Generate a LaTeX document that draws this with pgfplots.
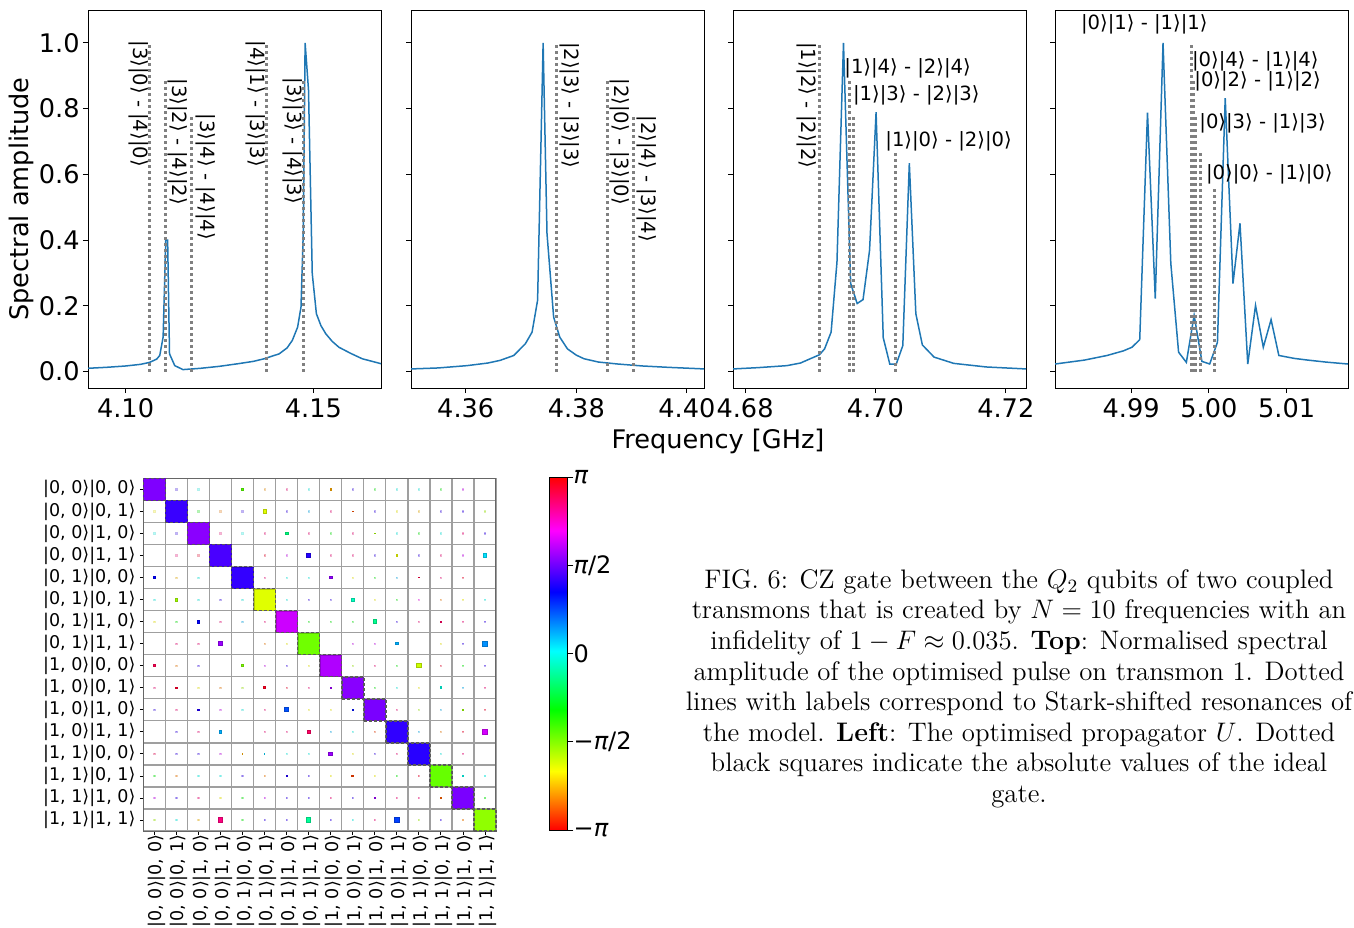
\RequirePackage{fix-cm}
\documentclass[border=0pt]{standalone}
\usepackage{fontspec}
\usepackage{pgfplots}
\pgfplotsset{compat=1.18}
\newfontfamily\dv{DejaVu Sans}
\newcommand\tickfont{\dv\fontsize{12.8}{15}\selectfont}
\newcommand\lblfont{\dv\fontsize{9.8}{11}\selectfont}
\newcommand\rowfont{\dv\fontsize{8.75}{10}\selectfont}
\newcommand\cbfont{\dv\fontsize{12}{14}\selectfont}
\newcommand\kt[4]{|#1, #2⟩|#3, #4⟩}
\definecolor{mplblue}{HTML}{1F77B4}
\definecolor{lgray}{HTML}{808080}
\pgfplotsset{
  panel/.style={scale only axis, width=146.5pt, height=189pt, ymin=-0.05, ymax=1.1,
    anchor=south west, tick align=outside, xtick pos=left, ytick pos=left,
    major tick length=2.5pt, every tick/.style={black, line width=0.5pt},
    axis line style={line width=0.5pt},
    ytick={0,0.2,0.4,0.6,0.8,1.0}, yticklabels={},
    xticklabel style={font=\tickfont, inner sep=0pt, yshift=-2.5pt},
    yticklabel style={font=\tickfont, inner sep=0pt, xshift=-1.5pt}},
  curve/.style={mplblue, line width=0.75pt},
  vl/.style={lgray, line width=1.5pt, dash pattern=on 1.5pt off 1.5pt}
}
\begin{document}
\begin{tikzpicture}
\path[use as bounding box] (0,0) rectangle (677pt,-463.5pt);
% ---------- panel 1
\begin{axis}[panel, at={(44pt,-194pt)}, xmin=4.0900, xmax=4.1680,
  xtick={4.10,4.15}, xticklabels={4.10,4.15},
  yticklabels={0.0,0.2,0.4,0.6,0.8,1.0}]
\addplot[curve] coordinates {(4.0900,0.010) (4.0950,0.013) (4.1000,0.017) (4.1040,0.022) (4.1064,0.028) (4.1083,0.038) (4.1091,0.049) (4.1100,0.105) (4.1107,0.40) (4.1112,0.40) (4.1117,0.054) (4.1131,0.018) (4.1153,0.006) (4.1200,0.010) (4.1250,0.016) (4.1300,0.024) (4.1340,0.031) (4.1369,0.039) (4.1409,0.054) (4.1430,0.072) (4.1444,0.095) (4.1458,0.135) (4.1467,0.196) (4.1473,0.42) (4.1478,1.0) (4.1487,0.857) (4.1497,0.298) (4.1508,0.176) (4.1520,0.140) (4.1533,0.115) (4.1550,0.092) (4.1568,0.074) (4.1600,0.055) (4.1630,0.039) (4.1680,0.024)};
\addplot[vl] coordinates {(4.10644,0) (4.10644,1.0)};
\addplot[vl] coordinates {(4.11060,0) (4.11060,0.888)};
\addplot[vl] coordinates {(4.11766,0) (4.11766,0.778)};
\addplot[vl] coordinates {(4.13754,0) (4.13754,1.0)};
\addplot[vl] coordinates {(4.14727,0) (4.14727,0.888)};
\end{axis}
% ---------- panel 2
\begin{axis}[panel, at={(205.5pt,-194pt)}, xmin=4.3501, xmax=4.4031,
  xtick={4.36,4.38,4.40}, xticklabels={4.36,4.38,4.40}]
\addplot[curve] coordinates {(4.3501,0.008) (4.3550,0.011) (4.3602,0.018) (4.3640,0.026) (4.3662,0.034) (4.3687,0.049) (4.3708,0.085) (4.3720,0.12) (4.3730,0.217) (4.3740,1.0) (4.3747,0.42) (4.3759,0.166) (4.3770,0.105) (4.3784,0.069) (4.3800,0.050) (4.3814,0.039) (4.3840,0.029) (4.3875,0.023) (4.3920,0.017) (4.3965,0.013) (4.4032,0.008)};
\addplot[vl] coordinates {(4.3764,0) (4.3764,1.0)};
\addplot[vl] coordinates {(4.3856,0) (4.3856,0.888)};
\addplot[vl] coordinates {(4.3903,0) (4.3903,0.778)};
\end{axis}
% ---------- panel 3
\begin{axis}[panel, at={(366.5pt,-194pt)}, xmin=4.67815, xmax=4.7231,
  xtick={4.68,4.70,4.72}, xticklabels={4.68,4.70,4.72}]
\addplot[curve] coordinates {(4.67815,0.008) (4.6820,0.012) (4.6864,0.018) (4.6885,0.026) (4.6900,0.039) (4.6914,0.051) (4.6922,0.069) (4.6932,0.12) (4.6941,0.333) (4.6951,1.0) (4.6962,0.268) (4.6972,0.207) (4.6981,0.219) (4.6991,0.369) (4.7001,0.789) (4.7012,0.103) (4.7022,0.023) (4.7032,0.023) (4.7042,0.079) (4.7052,0.634) (4.7062,0.176) (4.7072,0.081) (4.7090,0.044) (4.7120,0.025) (4.7170,0.014) (4.7231,0.008)};
\addplot[vl] coordinates {(4.6914,0) (4.6914,1.0)};
\addplot[vl] coordinates {(4.6960,0) (4.6960,0.888)};
\addplot[vl] coordinates {(4.6966,0) (4.6966,0.778)};
\addplot[vl] coordinates {(4.7031,0) (4.7031,0.667)};
\end{axis}
% ---------- panel 4
\begin{axis}[panel, at={(527.5pt,-194pt)}, xmin=4.9802, xmax=5.0179,
  xtick={4.99,5.00,5.01}, xticklabels={4.99,5.00,5.01}]
\addplot[curve] coordinates {(4.9802,0.023) (4.9840,0.035) (4.9869,0.049) (4.9890,0.063) (4.9901,0.074) (4.9911,0.097) (4.9921,0.788) (4.9931,0.222) (4.9941,1.0) (4.9951,0.329) (4.9961,0.059) (4.9971,0.028) (4.9981,0.171) (4.9991,0.031) (5.0001,0.023) (5.0011,0.089) (5.0021,0.832) (5.0031,0.268) (5.0040,0.451) (5.0050,0.023) (5.0060,0.201) (5.0070,0.074) (5.0080,0.158) (5.0090,0.049) (5.0110,0.040) (5.0127,0.035) (5.0150,0.029) (5.0179,0.023)};
\addplot[vl] coordinates {(4.99778,0) (4.99778,1.0)};
\addplot[vl] coordinates {(4.99800,0) (4.99800,0.889)};
\addplot[vl] coordinates {(4.99830,0) (4.99830,0.778)};
\addplot[vl] coordinates {(4.99894,0) (4.99894,0.667)};
\addplot[vl] coordinates {(5.00066,0) (5.00066,0.556)};
\end{axis}
% ---------- labels of top row
\node[font=\tickfont, rotate=90] at (10.5pt,-99.5pt) {Spectral amplitude};
\node[font=\tickfont] at (359pt,-220.5pt) {Frequency [GHz]};
\begin{scope}[every node/.style={font=\lblfont, inner sep=0pt}]
\node[rotate=-90, anchor=south west] at (64.15pt,-20pt) {|3⟩|0⟩ - |4⟩|0⟩};
\node[rotate=-90, anchor=south west] at (83.65pt,-39pt) {|3⟩|2⟩ - |4⟩|2⟩};
\node[rotate=-90, anchor=south west] at (97.5pt,-56.5pt) {|3⟩|4⟩ - |4⟩|4⟩};
\node[rotate=-90, anchor=south west] at (122.5pt,-20pt) {|4⟩|1⟩ - |3⟩|3⟩};
\node[rotate=-90, anchor=south west] at (141.35pt,-38.65pt) {|3⟩|3⟩ - |4⟩|3⟩};
\node[rotate=-90, anchor=south west] at (279.65pt,-20.85pt) {|2⟩|3⟩ - |3⟩|3⟩};
\node[rotate=-90, anchor=south west] at (304.65pt,-39pt) {|2⟩|0⟩ - |3⟩|0⟩};
\node[rotate=-90, anchor=south west] at (318pt,-57.5pt) {|2⟩|4⟩ - |3⟩|4⟩};
\node[rotate=-90, anchor=south west] at (398.35pt,-20.85pt) {|1⟩|2⟩ - |2⟩|2⟩};
\node[anchor=south west] at (422pt,-39.15pt) {|1⟩|4⟩ - |2⟩|4⟩};
\node[anchor=south west] at (426.35pt,-53pt) {|1⟩|3⟩ - |2⟩|3⟩};
\node[anchor=south west] at (442.5pt,-75.85pt) {|1⟩|0⟩ - |2⟩|0⟩};
\node[anchor=south west] at (540.35pt,-17.5pt) {|0⟩|1⟩ - |1⟩|1⟩};
\node[anchor=south west] at (595.85pt,-35.85pt) {|0⟩|4⟩ - |1⟩|4⟩};
\node[anchor=south west] at (597pt,-45.85pt) {|0⟩|2⟩ - |1⟩|2⟩};
\node[anchor=south west] at (599.5pt,-66.65pt) {|0⟩|3⟩ - |1⟩|3⟩};
\node[anchor=south west] at (602.85pt,-92.5pt) {|0⟩|0⟩ - |1⟩|0⟩};
\end{scope}
% ---------- propagator
\begin{axis}[at={(71.65pt,-415.5pt)}, anchor=south west, scale only axis,
  width=176.35pt, height=176.35pt,
  xmin=-0.5, xmax=15.5, ymin=-0.5, ymax=15.5,
  xtick={0,...,15}, ytick={0,...,15},
  xticklabels={{\kt0000},{\kt0001},{\kt0010},{\kt0011},{\kt0100},{\kt0101},{\kt0110},{\kt0111},{\kt1000},{\kt1001},{\kt1010},{\kt1011},{\kt1100},{\kt1101},{\kt1110},{\kt1111}},
  yticklabels={{\kt1111},{\kt1110},{\kt1101},{\kt1100},{\kt1011},{\kt1010},{\kt1001},{\kt1000},{\kt0111},{\kt0110},{\kt0101},{\kt0100},{\kt0011},{\kt0010},{\kt0001},{\kt0000}},
  minor xtick={-0.5,0.5,1.5,2.5,3.5,4.5,5.5,6.5,7.5,8.5,9.5,10.5,11.5,12.5,13.5,14.5,15.5},
  minor ytick={-0.5,0.5,1.5,2.5,3.5,4.5,5.5,6.5,7.5,8.5,9.5,10.5,11.5,12.5,13.5,14.5,15.5},
  grid=minor, minor grid style={gray!75, line width=0.7pt}, minor tick length=0pt,
  major tick length=1.75pt, tick align=outside, xtick pos=left, ytick pos=left,
  every tick/.style={black, line width=0.4pt},
  axis line style={black!60, line width=0.5pt},
  xticklabel style={font=\rowfont, rotate=90, anchor=east, inner sep=0pt, yshift=-1.5pt},
  yticklabel style={font=\rowfont, anchor=east, inner sep=0pt, xshift=-2pt},
  colormap={mplhsv}{rgb255(0pt)=(255,0,0) rgb255(167pt)=(255,255,0) rgb255(341pt)=(0,255,0) rgb255(508pt)=(0,255,255) rgb255(675pt)=(0,0,255) rgb255(849pt)=(255,0,255) rgb255(1000pt)=(255,0,0)},
  point meta min=-1, point meta max=1,
  colorbar,
  colorbar style={at={(parent axis.north east)}, anchor=north west, xshift=18.15pt, yshift=0.5pt,
    scale only axis, width=9.2pt, height=176.35pt,
    ytick={-1,-0.5,0,0.5,1}, ytick pos=right, yticklabel pos=right,
    yticklabels={{−{\itshape π}},{−{\itshape π}/2},0,{{\itshape π}/2},{{\itshape π}}},
    yticklabel style={font=\cbfont, inner sep=0pt},
    major tick length=2.75pt, tick align=outside,
    every tick/.style={black, line width=0.5pt},
    axis line style={black, line width=0.5pt}}]
% faint off-diagonal elements
\addplot[scatter, only marks, mark=square*, point meta=explicit, mark size=0.3pt,
  mark options={fill opacity=0.3, draw opacity=0.3}]
  table[x=c, y expr=15-\thisrow{r}, meta=p] {
c r p
1 0 0.42
2 0 0
5 0 -0.8
6 0 0.85
7 0 0
9 0 0.42
10 0 -0.317
11 0 0
12 0 0
13 0 -0.317
14 0 0.64
0 1 -0.667
2 1 -0.317
3 1 -0.833
4 1 0.42
6 1 0.42
7 1 0.11
8 1 0.85
10 1 0.42
11 1 -0.667
12 1 -0.75
13 1 0.42
14 1 0.42
15 1 -0.55
0 2 0
1 2 0.42
3 2 0.85
4 2 0
5 2 0.85
7 2 0.85
8 2 -0.317
9 2 0.85
11 2 0
12 2 -0.317
13 2 0
14 2 0.85
15 2 0.42
1 3 0.85
2 3 0.95
5 3 0.95
6 3 0.64
8 3 0.85
9 3 0.85
10 3 0.42
12 3 0.42
13 3 0.85
14 3 0.64
1 4 -0.75
2 4 0
5 4 0.85
6 4 0
7 4 0
9 4 -0.667
10 4 -0.317
11 4 0.11
13 4 0.85
14 4 0.95
0 5 0
2 5 0
3 5 0.42
4 5 0
6 5 0
7 5 0.42
8 5 0.42
10 5 -0.667
11 5 -0.317
12 5 0.70
13 5 -0.833
14 5 -0.667
15 5 0
0 6 -0.667
1 6 -0.317
3 6 0.85
4 6 0.11
5 6 0.85
7 6 -0.317
8 6 -0.317
9 6 -0.317
11 6 0.42
12 6 0.85
14 6 0.85
15 6 0.42
1 7 0.85
2 7 0.85
5 7 -0.833
6 7 -0.667
9 7 0.64
10 7 0.64
13 7 -0.667
14 7 0.42
1 8 -0.833
2 8 0.42
5 8 0.64
6 8 0.42
7 8 -0.667
9 8 -0.55
10 8 0.85
11 8 -0.317
13 8 0.95
14 8 -0.317
15 8 0.42
0 9 0.85
2 9 -0.667
3 9 -0.833
4 9 -0.55
6 9 0.95
7 9 0.85
10 9 -0.317
11 9 0
12 9 -0.667
14 9 0.11
15 9 0.85
0 10 0.42
1 10 0.85
3 10 0.64
4 10 0
5 10 0.85
7 10 -0.667
8 10 -0.667
11 10 0.85
12 10 -0.55
13 10 0.11
15 10 0.95
1 11 0.42
2 11 0.85
5 11 0.85
6 11 0.85
8 11 0.11
9 11 0
10 11 -0.92
12 11 0.11
13 11 -0.833
14 11 0.95
0 12 0.9
1 12 0.42
2 12 0.42
3 12 0.64
6 12 0
7 12 0
9 12 -0.667
10 12 0.42
11 12 0.85
13 12 0
14 12 0.85
0 13 -0.317
1 13 -0.833
2 13 0
3 13 0
4 13 0.42
5 13 -0.833
7 13 0.42
8 13 -0.667
10 13 -0.667
11 13 -0.317
12 13 0.95
15 13 0
0 14 0.64
1 14 0.42
2 14 0.85
3 14 -0.667
4 14 -0.317
5 14 0.64
6 14 0.42
7 14 0.42
8 14 0.85
9 14 0.42
11 14 0.85
12 14 0.85
15 14 -0.317
0 15 -0.55
1 15 0
2 15 -0.75
4 15 -0.317
5 15 0.42
6 15 0.42
8 15 0.42
9 15 0
10 15 0.85
12 15 -0.55
13 15 0.42
14 15 -0.833
};
% main elements
\addplot[scatter, only marks, mark=square*, point meta=explicit,
  visualization depends on={\thisrow{s} \as \msz},
  scatter/@pre marker code/.append style={/tikz/mark size=\msz}]
  table[x=c, y expr=15-\thisrow{r}, meta=p] {
c r p s
0 0 0.524 5.3
1 1 0.428 5.3
2 2 0.538 5.3
3 3 0.450 5.3
4 4 0.419 5.3
5 5 -0.624 5.3
6 6 0.629 5.3
7 7 -0.471 5.3
8 8 0.590 5.3
9 9 0.535 5.3
10 10 0.516 5.3
11 11 0.415 5.3
12 12 0.404 5.3
13 13 -0.457 5.3
14 14 0.516 5.3
15 15 -0.515 5.3
4 0 -0.434 0.55
8 0 -0.778 0.3
5 1 -0.624 0.8
9 1 -0.894 0.175
6 2 -0.151 0.675
10 2 -0.550 0.175
7 3 0.396 1.05
11 3 -0.643 0.3
15 3 0.055 0.8
0 4 0.349 0.675
8 4 0.547 0.675
12 4 0.925 0.175
1 5 -0.539 0.675
9 5 -0.067 0.675
2 6 0.349 0.675
10 6 -0.129 0.925
13 6 0.884 0.175
3 7 0.559 1.05
11 7 0.121 0.55
15 7 0.160 1.3
0 8 0.904 0.425
4 8 -0.492 0.425
12 8 -0.597 1.05
1 9 0.945 0.3
5 9 0.960 0.55
8 9 0.570 0.175
13 9 -0.023 0.425
2 10 0.396 0.3
6 10 0.244 1.05
9 10 0.328 0.175
14 10 -0.527 0.425
3 11 0.121 0.675
7 11 0.884 0.675
15 11 0.640 1.05
4 12 -0.772 0.175
5 12 0.071 0.175
8 12 0.559 0.925
6 13 0.396 0.175
9 13 -0.917 0.425
14 13 -0.006 0.175
10 14 0.570 0.3
13 14 -0.872 0.175
3 15 0.849 1.05
7 15 -0.117 1.05
11 15 0.266 1.3
};
\addplot[only marks, mark=square, mark size=5.5pt,
  mark options={draw=black!65, line width=0.8pt, dash pattern=on 1.5pt off 1pt}]
  coordinates {(0,15) (1,14) (2,13) (3,12) (4,11) (5,10) (6,9) (7,8) (8,7) (9,6) (10,5) (11,4) (12,3) (13,2) (14,1) (15,0)};
\end{axis}
% ---------- caption
\node[anchor=north, align=center, inner sep=0pt, font=\fontsize{13.4}{15.3}\selectfont] at (509.5pt,-284.5pt)
{FIG. 6: CZ gate between the $Q_2$ qubits of two coupled\\
transmons that is created by $N = 10$ frequencies with an\\
infidelity of $1 - F \approx 0.035$. \textbf{Top}: Normalised spectral\\
amplitude of the optimised pulse on transmon 1. Dotted\\
lines with labels correspond to Stark-shifted resonances of\\
the model. \textbf{Left}: The optimised propagator $U$. Dotted\\
black squares indicate the absolute values of the ideal\\
gate.};
\end{tikzpicture}
\end{document}
